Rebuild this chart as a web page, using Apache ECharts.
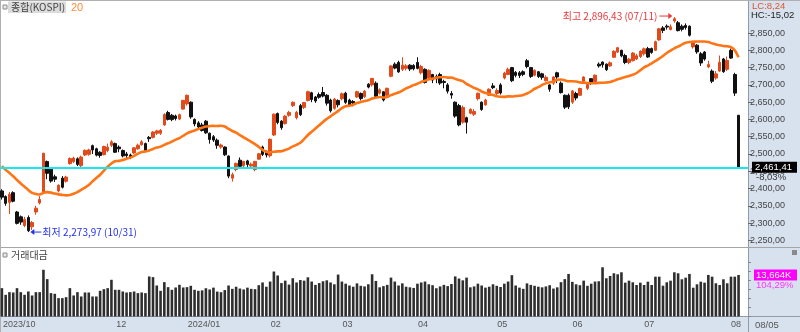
<!DOCTYPE html>
<html>
<head>
<meta charset="utf-8">
<script src="https://cdn.jsdelivr.net/npm/echarts@6/dist/echarts.min.js"></script>
<style>
html,body{margin:0;padding:0;background:#fff;}
#c{width:800px;height:332px;}
</style>
</head>
<body>
<div id="c"></div>
<script>
// KOSPI daily sessions
const dates = [
  '2023/10/20','2023/10/23','2023/10/24','2023/10/25','2023/10/26','2023/10/27','2023/10/30','2023/10/31',
  '2023/11/01','2023/11/02','2023/11/03','2023/11/06','2023/11/07','2023/11/08','2023/11/09','2023/11/10','2023/11/13','2023/11/14','2023/11/15','2023/11/16','2023/11/17','2023/11/20','2023/11/21','2023/11/22','2023/11/23','2023/11/24','2023/11/27','2023/11/28','2023/11/29','2023/11/30',
  '2023/12/01','2023/12/04','2023/12/05','2023/12/06','2023/12/07','2023/12/08','2023/12/11','2023/12/12','2023/12/13','2023/12/14','2023/12/15','2023/12/18','2023/12/19','2023/12/20','2023/12/21','2023/12/22','2023/12/26','2023/12/27','2023/12/28',
  '2024/01/02','2024/01/03','2024/01/04','2024/01/05','2024/01/08','2024/01/09','2024/01/10','2024/01/11','2024/01/12','2024/01/15','2024/01/16','2024/01/17','2024/01/18','2024/01/19','2024/01/22','2024/01/23','2024/01/24','2024/01/25','2024/01/26','2024/01/29','2024/01/30','2024/01/31',
  '2024/02/01','2024/02/02','2024/02/05','2024/02/06','2024/02/07','2024/02/08','2024/02/13','2024/02/14','2024/02/15','2024/02/16','2024/02/19','2024/02/20','2024/02/21','2024/02/22','2024/02/23','2024/02/26','2024/02/27','2024/02/28','2024/02/29',
  '2024/03/04','2024/03/05','2024/03/06','2024/03/07','2024/03/08','2024/03/11','2024/03/12','2024/03/13','2024/03/14','2024/03/15','2024/03/18','2024/03/19','2024/03/20','2024/03/21','2024/03/22','2024/03/25','2024/03/26','2024/03/27','2024/03/28','2024/03/29',
  '2024/04/01','2024/04/02','2024/04/03','2024/04/04','2024/04/05','2024/04/08','2024/04/09','2024/04/11','2024/04/12','2024/04/15','2024/04/16','2024/04/17','2024/04/18','2024/04/19','2024/04/22','2024/04/23','2024/04/24','2024/04/25','2024/04/26','2024/04/29','2024/04/30',
  '2024/05/02','2024/05/03','2024/05/07','2024/05/08','2024/05/09','2024/05/10','2024/05/13','2024/05/14','2024/05/16','2024/05/17','2024/05/20','2024/05/21','2024/05/22','2024/05/23','2024/05/24','2024/05/27','2024/05/28','2024/05/29','2024/05/30','2024/05/31',
  '2024/06/03','2024/06/04','2024/06/05','2024/06/07','2024/06/10','2024/06/11','2024/06/12','2024/06/13','2024/06/14','2024/06/17','2024/06/18','2024/06/19','2024/06/20','2024/06/21','2024/06/24','2024/06/25','2024/06/26','2024/06/27','2024/06/28',
  '2024/07/01','2024/07/02','2024/07/03','2024/07/04','2024/07/05','2024/07/08','2024/07/09','2024/07/10','2024/07/11','2024/07/12','2024/07/15','2024/07/16','2024/07/17','2024/07/18','2024/07/19','2024/07/22','2024/07/23','2024/07/24','2024/07/25','2024/07/26','2024/07/29','2024/07/30','2024/07/31',
  '2024/08/01','2024/08/02','2024/08/05'
];

const openP = [
  2393,2377,2360,2388,2332,2318,2293,2316,
  2289,2332,2358,2390,2478,2456,2434,2393,2430,2421,2472,2478,2486,2466,2497,2499,2524,2515,2505,2498,2510,2525,
  2530,2520,2510,2500,2497,2503,2515,2527,2530,2548,2548,2560,2560,2584,2620,2612,2610,2601,2630,
  2645,2650,2600,2590,2584,2595,2560,2550,2540,2520,2520,2494,2430,2455,2482,2466,2480,2465,2455,2485,2520,2505,
  2495,2555,2617,2595,2588,2612,2640,2605,2640,2635,2655,2677,2665,2672,2678,2670,2656,2632,2655,
  2660,2676,2656,2652,2665,2675,2666,2702,2700,2705,2676,2680,2670,2725,2760,2765,2745,2748,2757,2756,
  2765,2735,2745,2720,2730,2725,2730,2710,2700,2675,2650,2640,2592,2605,2618,2615,2660,2650,2642,2670,2697,
  2675,2700,2720,2730,2750,2736,2735,2738,2770,2750,2728,2738,2732,2712,2700,2705,2735,2705,2670,2670,
  2650,2675,2670,2710,2690,2718,2710,2760,2766,2760,2755,2780,2795,2800,2785,2765,2770,2775,2782,
  2790,2805,2805,2800,2830,2865,2870,2860,2885,2880,2870,2872,2870,2810,2815,2790,2795,2752,2740,2720,2740,2775,2745,
  2800,2730,2612
];
const highP = [
  2398,2380,2390,2392,2335,2322,2318,2322,
  2306,2350,2378,2502.37,2481,2462,2440,2412,2436,2437,2490,2492,2490,2495,2513,2515,2527,2518,2508,2524,2530,2540,
  2533,2525,2513,2506,2501,2520,2530,2540,2533,2552,2566,2570,2572,2618,2625,2616,2614,2617,2656,
  2672,2652,2603,2595,2590,2598,2562,2555,2545,2530,2522,2496,2446,2475,2490,2480,2483,2475,2480,2503,2524,2510,
  2545,2617,2620,2598,2612,2625,2652,2625,2645,2650,2683,2680,2668,2678,2694,2673,2660,2662,2658,
  2678,2680,2660,2656,2683,2678,2685,2705,2720,2710,2690,2682,2692,2757,2765,2770,2780,2760,2760,2760,
  2780,2758,2748,2745,2732,2730,2735,2715,2705,2682,2652,2645,2640,2608,2632,2630,2678,2652,2660,2690,2705,
  2690,2705,2738,2750,2752,2740,2740,2742,2775,2752,2745,2740,2735,2728,2702,2725,2738,2710,2672,2675,
  2685,2680,2692,2725,2705,2720,2730,2765,2768,2762,2768,2800,2810,2802,2790,2778,2795,2790,2800,
  2808,2810,2808,2828,2865,2870,2875,2875,2896.43,2885,2875,2878,2872,2828,2818,2795,2798,2770,2745,2740,2785,2778,2782,
  2805,2735,2613
];
const lowP = [
  2368,2350,2326,2360,2296,2295,2288,2273.97,
  2280,2324,2354,2386,2427,2417,2419,2389,2400,2417,2469,2474,2465,2462,2494,2495,2500,2493,2489,2496,2505,2520,
  2503,2505,2490,2488,2485,2500,2512,2524,2505,2535,2545,2555,2555,2582,2597,2595,2597,2598,2628,
  2640,2602,2580,2571,2565,2558,2530,2535,2515,2515,2494,2430,2420,2450,2460,2460,2460,2460,2450,2483,2494,2490,
  2490,2552,2586,2570,2585,2608,2636,2600,2610,2630,2652,2650,2648,2660,2664,2640,2620,2628,2635,
  2655,2645,2638,2638,2662,2655,2662,2690,2695,2663,2672,2652,2665,2722,2745,2735,2740,2742,2740,2742,
  2745,2730,2704,2718,2705,2705,2700,2690,2675,2660,2605,2580,2588,2559,2615,2610,2655,2625,2640,2668,2688,
  2670,2672,2716,2728,2708,2722,2720,2725,2748,2720,2725,2720,2715,2710,2680,2700,2705,2675,2630,2630,
  2645,2655,2668,2708,2685,2700,2708,2750,2750,2740,2752,2778,2792,2780,2760,2760,2768,2772,2778,
  2785,2778,2790,2798,2828,2850,2860,2858,2880,2855,2855,2860,2840,2805,2790,2755,2770,2748,2705,2715,2738,2735,2740,
  2775,2668,2461.41
];
const closeP = [
  2375.00,2357.02,2383.51,2363.17,2299.08,2302.81,2310.55,2277.99,
  2301.56,2343.12,2368.34,2502.37,2443.96,2421.62,2427.08,2409.66,2403.76,2433.25,2486.67,2488.18,2469.85,2491.20,2510.42,2511.70,2511.66,2496.63,2495.66,2521.76,2519.81,2535.29,
  2505.01,2514.95,2494.28,2495.38,2492.07,2517.85,2525.36,2535.03,2510.66,2544.18,2563.56,2566.86,2568.55,2614.30,2600.02,2599.51,2602.59,2613.50,2655.28,
  2669.81,2607.31,2587.02,2578.08,2567.82,2561.24,2541.98,2540.27,2525.05,2525.99,2497.59,2435.90,2440.04,2472.74,2464.35,2478.61,2469.69,2470.34,2478.56,2500.65,2498.81,2497.09,
  2542.46,2615.31,2591.31,2576.20,2609.58,2620.32,2649.64,2620.42,2613.80,2648.76,2680.26,2657.79,2653.31,2664.27,2667.70,2647.08,2625.05,2658.84,2642.36,
  2674.27,2649.40,2641.49,2647.62,2680.35,2660.32,2681.81,2693.57,2718.76,2666.84,2685.84,2656.17,2690.14,2754.86,2748.56,2737.57,2757.09,2755.11,2745.82,2746.63,
  2747.86,2753.16,2706.97,2742.00,2714.21,2717.65,2705.16,2706.96,2681.82,2670.43,2609.63,2584.18,2634.70,2591.86,2629.44,2623.02,2675.75,2628.62,2656.33,2687.44,2692.06,
  2683.65,2676.63,2734.36,2745.05,2712.14,2727.63,2727.21,2730.34,2753.00,2724.62,2742.14,2724.18,2721.81,2721.81,2687.60,2722.99,2722.85,2677.57,2635.44,2636.52,
  2682.52,2662.10,2689.50,2722.67,2701.17,2705.30,2728.17,2754.89,2758.42,2744.10,2763.92,2797.33,2807.63,2784.06,2764.73,2774.39,2792.05,2784.26,2797.82,
  2804.31,2780.86,2794.01,2824.94,2862.23,2857.76,2867.38,2867.99,2891.35,2857.00,2860.92,2866.09,2843.69,2824.35,2795.46,2763.51,2774.69,2758.71,2710.65,2731.90,2765.49,2738.19,2770.69,
  2777.68,2676.19,2461.41
];
// closes of the 19 sessions before 2023/10/20 (needed for the 20-day average)
const priorCloses = [2574.72,2559.21,2559.74,2514.97,2508.13,2495.76,2462.97,2465.07,2405.69,2403.60,2408.73,2402.58,2450.08,2479.82,2456.15,2436.24,2460.17,2462.60,2415.80];

// trading value (K)
const volume = [
  9330,7140,8015,7905,9330,8015,7140,8235,
  6920,8015,8015,15370,12300,7690,7470,6040,6040,6370,9330,6920,8015,6590,7905,7905,6590,6590,8455,9000,9330,12080,
  8780,8780,8235,7905,8015,8235,7690,7905,7690,13180,12960,10210,8455,11310,9660,8780,9550,10430,9550,
  9660,10100,8780,8455,8600,9300,8900,9500,8200,8000,8700,10200,9100,9800,9200,8900,9500,9100,9000,10300,11200,9800,
  11500,14800,13500,11000,11800,10500,12600,11200,12000,11800,12900,11500,10400,11000,11600,11900,11200,10600,13800,
  11500,10800,10200,9800,10900,10100,9900,10600,13900,11700,9600,10000,10400,12800,11500,10200,10900,9800,9600,9400,
  10800,11200,11500,10600,10300,9300,9900,10400,10000,10700,13200,12500,11900,12800,9600,9900,10800,10200,9500,9800,10600,
  10100,9700,10800,11500,13600,10200,9500,9100,10900,10400,10100,9800,9600,9900,10300,9200,9600,11300,12300,14000,
  11400,10600,10300,11800,10100,10800,11500,11600,16200,12580,13340,14220,13890,14550,11130,11790,11260,10370,11130,
  10370,11460,10370,13110,13110,10140,11260,11790,14550,14220,12250,12780,14000,9480,10600,11460,11130,13670,13110,10930,10370,12250,10930,
  13110,13102,13664
];

const priceTicks = [2250,2300,2350,2400,2450,2500,2550,2600,2650,2700,2750,2800,2850];
const maPeriod = 20;

// ---------- derived values ----------
const N = dates.length;
const cats = dates.concat(['', '']);           // two empty slots at the right edge
const candles = dates.map((d, i) => [openP[i], closeP[i], lowP[i], highP[i]]);
const allCloses = priorCloses.concat(closeP);
const ma = closeP.map((c, i) => {
  let s = 0;
  for (let k = 0; k < maPeriod; k++) s += allCloses[i + maPeriod - 1 - k];
  return +(s / maPeriod).toFixed(2);
});

// month boundaries that get a label (a month too close to the previous label is skipped)
const monthMarks = new Set();
let lastMark = -100;
dates.forEach((d, i) => {
  const isStart = i === 0 || d.slice(0, 7) !== dates[i - 1].slice(0, 7);
  if (isStart && i - lastMark >= 12) { monthMarks.add(i); lastMark = i; }
});
function monthLabel(i) {
  const d = dates[i];
  if (!d) return '';
  const m = d.slice(5, 7);
  return (i === 0 || m === '01') ? d.slice(0, 7) : m;
}
// "2,850,00" style numbers
function fmt(n) {
  const neg = n < 0;
  const parts = Math.abs(n).toFixed(2).split('.');
  return (neg ? '-' : '') + parts[0].replace(/\B(?=(\d{3})+(?!\d))/g, ',') + ',' + parts[1];
}

const UP = '#e24a1c', DOWN = '#111111';
const NUM_FONT = '"Liberation Sans", Arial, sans-serif';
const KR_FONT = '"Noto Sans CJK KR", "Liberation Sans", sans-serif';
const PANEL = '#d7e2ee', EDGE = '#8f9cad';

const chart = echarts.init(document.getElementById('c'), null, { renderer: 'canvas' });

const option = {
  animation: false,
  backgroundColor: '#ffffff',
  grid: [
    { left: 0, top: 15.8, width: 748, height: 241.8 },
    { left: 0, top: 261.8, width: 748, height: 54.7 },
    { left: 0, top: 317, width: 748, height: 15 }
  ],
  xAxis: [
    { type: 'category', gridIndex: 0, data: cats, show: false },
    { type: 'category', gridIndex: 1, data: cats, show: false },
    {
      type: 'category', gridIndex: 2, data: cats, position: 'top',
      axisLine: { show: false },
      axisTick: { show: true, inside: true, length: 15, interval: (i) => monthMarks.has(i) && i > 0, lineStyle: { color: EDGE, width: 1 } },
      axisLabel: {
        inside: true, interval: (i) => monthMarks.has(i), align: 'left', verticalAlign: 'top', margin: 3,
        showMinLabel: true, hideOverlap: false,
        formatter: (v, i) => monthLabel(i), color: '#555', fontSize: 9, fontFamily: NUM_FONT
      },
      splitLine: { show: false }
    }
  ],
  yAxis: [
    {
      type: 'value', gridIndex: 0, position: 'right', min: 2200, max: 2900, interval: 50,
      axisLine: { show: false }, splitLine: { show: false },
      axisTick: { show: true, length: 4, lineStyle: { color: '#666' }, customValues: priceTicks },
      axisLabel: { margin: 2, color: '#444', fontSize: 9, fontFamily: NUM_FONT, customValues: priceTicks,
        formatter: (v) => (v >= 2250 && v <= 2850) ? fmt(v) : '' }
    },
    {
      type: 'value', gridIndex: 1, position: 'right', min: 0, max: 18000, interval: 3000,
      axisLine: { show: false }, splitLine: { show: false },
      axisTick: { show: true, length: 3, lineStyle: { color: '#888' } },
      axisLabel: { show: false }
    },
    { type: 'value', gridIndex: 2, show: false }
  ],
  series: [
    {
      type: 'candlestick', xAxisIndex: 0, yAxisIndex: 0, data: candles, barWidth: 3,
      itemStyle: { color: UP, color0: DOWN, borderColor: UP, borderColor0: DOWN, borderWidth: 1 },
      markLine: {
        silent: true, symbol: 'none', label: { show: false },
        lineStyle: { color: '#19e6ee', width: 2, type: 'solid' },
        data: [{ yAxis: closeP[N - 1] }]
      }
    },
    {
      type: 'line', xAxisIndex: 0, yAxisIndex: 0, data: ma, showSymbol: false, smooth: 0.3,
      lineStyle: { color: '#ff7415', width: 2.6 }, z: 3
    },
    {
      type: 'bar', xAxisIndex: 1, yAxisIndex: 1, data: volume, barWidth: 2.6,
      itemStyle: { color: '#2e2e2e' }
    }
  ]
};
chart.setOption(option);

// ---------- annotations placed through the axes ----------
const toPx = (i, v) => chart.convertToPixel({ xAxisIndex: 0, yAxisIndex: 0 }, [i, v]);
const toPxVol = (i, v) => chart.convertToPixel({ xAxisIndex: 1, yAxisIndex: 1 }, [i, v]);

let iMax = 0, iMin = 0;
for (let i = 1; i < N; i++) {
  if (highP[i] > highP[iMax]) iMax = i;
  if (lowP[i] < lowP[iMin]) iMin = i;
}
const lastC = closeP[N - 1], prevC = closeP[N - 2];
const pMax = toPx(iMax, highP[iMax]);
const pMin = toPx(iMin, lowP[iMin]);
const pLast = toPx(N - 1, lastC);
const pVol = toPxVol(N - 1, volume[N - 1]);
const mmdd = (d) => d.slice(5);

const chg = (lastC / prevC - 1) * 100;
const lc = (lastC / lowP[iMin] - 1) * 100;
const hc = (lastC / highP[iMax] - 1) * 100;
const volRatio = volume[N - 1] / volume[N - 2] * 100;

const g = [
  // right price panel and date strip backgrounds
  { type: 'rect', shape: { x: 749, y: 0, width: 51, height: 332 }, style: { fill: PANEL }, z: -10, silent: true },
  { type: 'rect', shape: { x: 0, y: 317, width: 749, height: 15 }, style: { fill: PANEL }, z: -10, silent: true },
  { type: 'line', shape: { x1: 748.5, y1: 0, x2: 748.5, y2: 332 }, style: { stroke: EDGE, lineWidth: 1 }, z: -5, silent: true },
  { type: 'line', shape: { x1: 0, y1: 316.5, x2: 800, y2: 316.5 }, style: { stroke: EDGE, lineWidth: 1 }, z: -5, silent: true },
  { type: 'line', shape: { x1: 0, y1: 247.5, x2: 800, y2: 247.5 }, style: { stroke: '#a5a5a5', lineWidth: 1 }, z: -5, silent: true },
  { type: 'line', shape: { x1: 0, y1: 0.5, x2: 800, y2: 0.5 }, style: { stroke: '#b0b0b0', lineWidth: 1 }, z: -5, silent: true },
  { type: 'line', shape: { x1: 0.5, y1: 0, x2: 0.5, y2: 332 }, style: { stroke: '#b0b0b0', lineWidth: 1 }, z: -5, silent: true },

  // title block
  { type: 'rect', shape: { x: 3, y: 5, width: 4, height: 4 }, style: { fill: '#e8e8e8', stroke: '#8a8a8a', lineWidth: 1 }, z: 20 },
  { type: 'rect', shape: { x: 8, y: 1.5, width: 58, height: 11.5 }, style: { fill: '#dcdcdc' }, z: 20 },
  { type: 'text', x: 11, y: 7.5, style: { text: '종합(KOSPI)', fill: '#444', font: '10px ' + KR_FONT, verticalAlign: 'middle' }, z: 21 },
  { type: 'text', x: 71, y: 7.5, style: { text: String(maPeriod), fill: '#ff8a3a', font: '11px ' + NUM_FONT, verticalAlign: 'middle' }, z: 21 },

  { type: 'rect', shape: { x: 3, y: 253, width: 4, height: 4 }, style: { fill: '#e8e8e8', stroke: '#8a8a8a', lineWidth: 1 }, z: 20 },
  { type: 'text', x: 11, y: 255.5, style: { text: '거래대금', fill: '#444', font: '10px ' + KR_FONT, verticalAlign: 'middle' }, z: 21 },

  // highest high
  { type: 'text', x: pMax[0] - 17, y: pMax[1] - 1, style: { text: '최고 ' + fmt(highP[iMax]) + ' (' + mmdd(dates[iMax]) + ')', fill: '#e8383a', font: '10px ' + KR_FONT, align: 'right', verticalAlign: 'middle' }, z: 21 },
  { type: 'line', shape: { x1: pMax[0] - 15, y1: pMax[1] - 1, x2: pMax[0] - 4, y2: pMax[1] - 1 }, style: { stroke: '#e8383a', lineWidth: 1 }, z: 21 },
  { type: 'polygon', shape: { points: [[pMax[0] - 2, pMax[1] - 1], [pMax[0] - 6, pMax[1] - 4], [pMax[0] - 6, pMax[1] + 2]] }, style: { fill: '#e8383a' }, z: 21 },

  // lowest low
  { type: 'polygon', shape: { points: [[pMin[0] + 2, pMin[1]], [pMin[0] + 6, pMin[1] - 3], [pMin[0] + 6, pMin[1] + 3]] }, style: { fill: '#2233ee' }, z: 21 },
  { type: 'line', shape: { x1: pMin[0] + 5, y1: pMin[1], x2: pMin[0] + 13, y2: pMin[1] }, style: { stroke: '#2233ee', lineWidth: 1 }, z: 21 },
  { type: 'text', x: pMin[0] + 14, y: pMin[1], style: { text: '최저 ' + fmt(lowP[iMin]) + ' (' + mmdd(dates[iMin]) + ')', fill: '#2233ee', font: '10px ' + KR_FONT, verticalAlign: 'middle' }, z: 21 },

  // last price tag
  { type: 'rect', shape: { x: 752, y: pLast[1] - 5.5, width: 45, height: 11 }, style: { fill: '#000' }, z: 21 },
  { type: 'text', x: 755, y: pLast[1], style: { text: fmt(lastC), fill: '#fff', font: '9.5px ' + NUM_FONT, verticalAlign: 'middle' }, z: 22 },
  { type: 'text', x: 756, y: pLast[1] + 10, style: { text: fmt(chg) + '%', fill: '#333', font: '9.5px ' + NUM_FONT, verticalAlign: 'middle' }, z: 22 },

  // range ratios
  { type: 'text', x: 752, y: 6, style: { text: 'LC:' + fmt(lc), fill: '#e0552e', font: '9.5px ' + NUM_FONT, verticalAlign: 'middle' }, z: 22 },
  { type: 'text', x: 751, y: 15.5, style: { text: 'HC:' + fmt(hc), fill: '#222', font: '9.5px ' + NUM_FONT, verticalAlign: 'middle' }, z: 22 },

  // last trading value tag
  { type: 'rect', shape: { x: 754, y: pVol[1] - 5.5, width: 43, height: 11 }, style: { fill: '#ff00ff' }, z: 21 },
  { type: 'text', x: 756, y: pVol[1], style: { text: Math.round(volume[N - 1]).toLocaleString('en-US') + 'K', fill: '#fff', font: '9.5px ' + NUM_FONT, verticalAlign: 'middle' }, z: 22 },
  { type: 'text', x: 756, y: pVol[1] + 10, style: { text: fmt(volRatio) + '%', fill: '#ff33ff', font: '9.5px ' + NUM_FONT, verticalAlign: 'middle' }, z: 22 },

  // last date in the strip
  { type: 'text', x: 755, y: 325, style: { text: dates[N - 1].slice(5), fill: '#555', font: '9.5px ' + NUM_FONT, verticalAlign: 'middle' }, z: 22 },
  { type: 'rect', shape: { x: 792, y: 250, width: 5, height: 5 }, style: { fill: '#8a8a8a' }, z: 20 }
];
chart.setOption({ graphic: { elements: g } });
</script>
</body>
</html>
